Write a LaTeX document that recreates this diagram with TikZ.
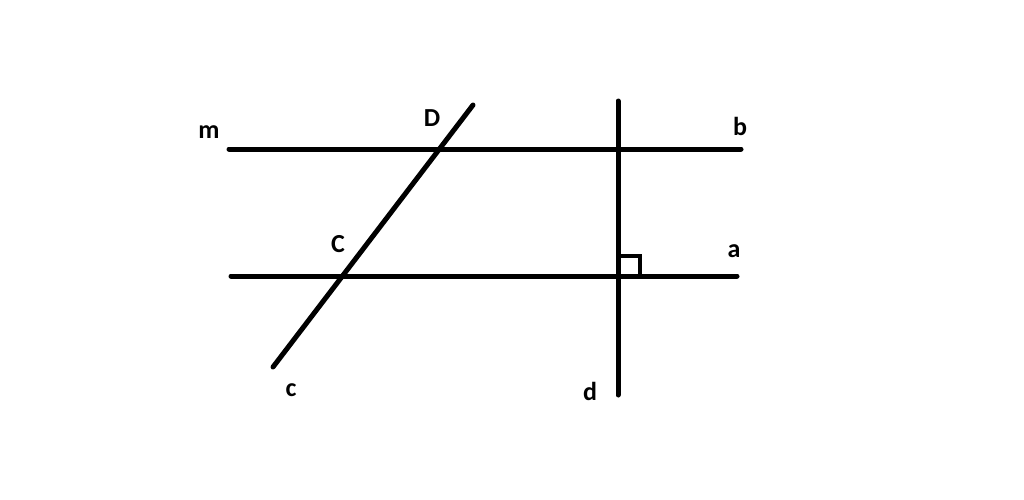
\documentclass[tikz,border=0pt]{standalone}
\usepackage{fontspec}
\setmainfont{Carlito}
\begin{document}
\begin{tikzpicture}[x=1pt,y=-1pt,
  ln/.style={line width=5pt,line cap=round},
  lab/.style={font=\bfseries\fontsize{26}{30}\selectfont,inner sep=0pt}]
\useasboundingbox (0,0) rectangle (1024,499);
\coordinate (m1) at (229,149); \coordinate (m2) at (741,149);
\coordinate (a1) at (231,276); \coordinate (a2) at (737,276);
\coordinate (c1) at (273,367); \coordinate (c2) at (473,105);
\coordinate (d1) at (618,101); \coordinate (d2) at (618,395);
\draw[ln] (m1) -- (m2);
\draw[ln] (a1) -- (a2);
\draw[ln] (c1) -- (c2);
\draw[ln] (d1) -- (d2);
\draw[line width=4pt] (618,256) -- (640,256) -- (640,276);
\node[lab] (lm) at (209,132) {m};
\node[lab] (lD) at (432,118) {D};
\node[lab] (lb) at (740,126) {b};
\node[lab] (lC) at (338,244) {C};
\node[lab] (la) at (734,251) {a};
\node[lab] (lc) at (291,390) {c};
\node[lab] (ld) at (590,391) {d};
\end{tikzpicture}
\end{document}
